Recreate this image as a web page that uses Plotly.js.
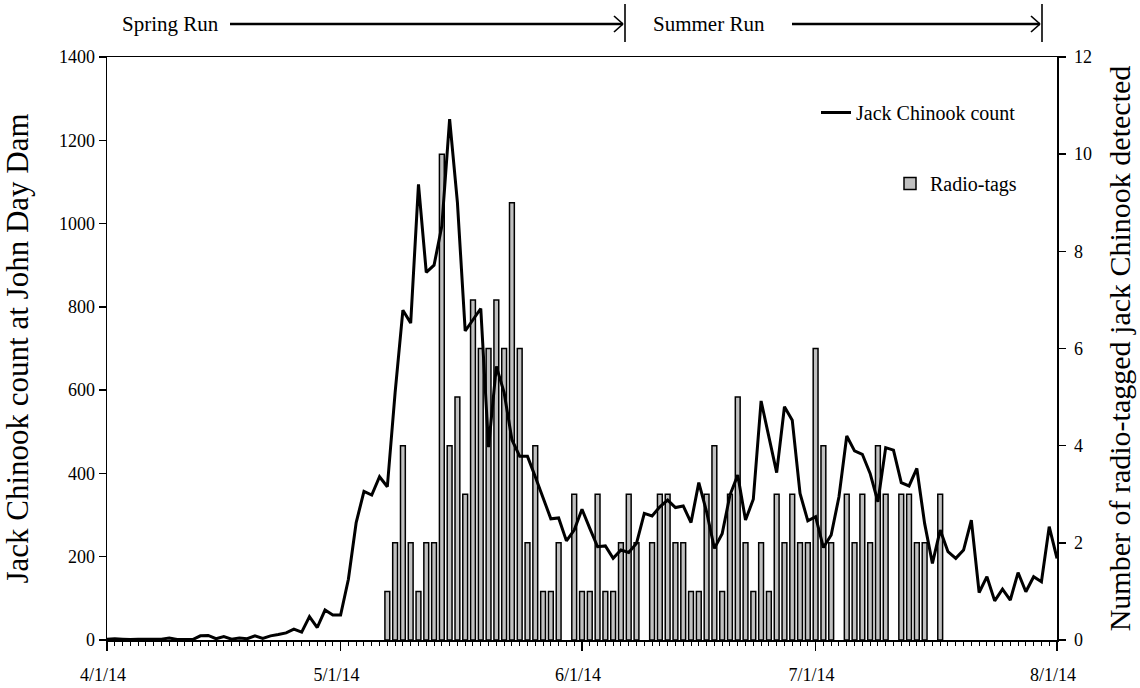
<!DOCTYPE html>
<html>
<head>
<meta charset="utf-8">
<script src="https://cdn.plot.ly/plotly-3.0.1.min.js"></script>
<style>html,body{margin:0;padding:0;background:#fff;}#chart{width:1140px;height:688px;}</style>
</head>
<body>
<div id="chart"></div>
<script>
// ---- data ----
const startDate = '2014-04-01';
// daily jack Chinook count at John Day Dam, 4/1/14 .. 8/1/14
const jackCount = [
  2,3,2,1,2,2,1,2,5,1,1,1,10,11,3,8,2,5,3,10,4,10,13,17,26,19,56,30,72,60,
  60,146,282,357,348,392,368,594,792,761,1094,883,900,994,1251,1051,742,768,796,463,657,594,481,441,441,392,341,291,293,238,
  264,314,268,224,226,196,216,210,232,304,298,320,336,318,322,282,378,308,220,255,348,396,288,338,574,488,402,560,528,352,
  286,296,222,252,344,490,454,446,400,332,462,456,378,370,412,280,184,264,212,196,216,288,114,152,94,122,96,162,116,152,140,272,196
];
const tagDates = [
  '2014-05-07','2014-05-08','2014-05-09','2014-05-10','2014-05-11','2014-05-12','2014-05-13','2014-05-14',
  '2014-05-15','2014-05-16','2014-05-17','2014-05-18','2014-05-19','2014-05-20','2014-05-21','2014-05-22',
  '2014-05-23','2014-05-24','2014-05-25','2014-05-26','2014-05-27','2014-05-28','2014-05-29','2014-05-31',
  '2014-06-01','2014-06-02','2014-06-03','2014-06-04','2014-06-05','2014-06-06','2014-06-07','2014-06-08',
  '2014-06-10','2014-06-11','2014-06-12','2014-06-13','2014-06-14','2014-06-15','2014-06-16','2014-06-17',
  '2014-06-18','2014-06-19','2014-06-20','2014-06-21','2014-06-22','2014-06-23','2014-06-24','2014-06-25',
  '2014-06-26','2014-06-27','2014-06-28','2014-06-29','2014-06-30','2014-07-01','2014-07-02','2014-07-03',
  '2014-07-05','2014-07-06','2014-07-07','2014-07-08','2014-07-09','2014-07-10',
  '2014-07-12','2014-07-13','2014-07-14','2014-07-15','2014-07-17'
];
const tagCounts = [
  1,2,4,2,1,2,2,10,
  4,5,3,7,6,6,7,6,
  9,6,2,4,1,1,2,3,
  1,1,3,1,1,2,3,2,
  2,3,3,2,2,1,1,3,
  4,1,3,5,2,1,2,1,
  3,2,3,2,2,6,4,2,
  3,2,3,2,4,3,
  3,3,2,2,3
];
const monthTicks = ['2014-04-01','2014-05-01','2014-06-01','2014-07-01','2014-08-01'];
const monthLabels = ['4/1/14','5/1/14','6/1/14','7/1/14','8/1/14'];
const runNames = ['Spring Run','Summer Run'];

// ---- build ----
const DAY = 86400000;
const t0 = Date.parse(startDate + 'T00:00:00Z');
const lineDates = jackCount.map((_, i) => new Date(t0 + i * DAY).toISOString().slice(0, 10));

const FONT = 'Liberation Serif, Times New Roman, serif';

const bars = {
  type: 'bar', name: 'Radio-tags', x: tagDates, y: tagCounts,
  xaxis: 'x', yaxis: 'y', width: 0.62 * DAY,
  marker: {color: '#c0c0c0', line: {color: '#000', width: 1.5}},
  legend: 'legend2', hoverinfo: 'x+y'
};
const line = {
  type: 'scatter', mode: 'lines', name: 'Jack Chinook count', x: lineDates, y: jackCount,
  xaxis: 'x', yaxis: 'y2', line: {color: '#000', width: 3}, legend: 'legend'
};

// pixel helpers for decorations (plot area 107..1057 x 57..640)
const px = v => (v - 107) / 950;
const py = v => (640 - v) / 583;

const shapes = [];
function arrow(x1, x2, y, bar) {
  shapes.push({type: 'line', xref: 'paper', yref: 'paper', x0: px(x1), x1: px(x2), y0: py(y), y1: py(y), line: {color: '#000', width: 2.4}});
  shapes.push({type: 'line', xref: 'paper', yref: 'paper', x0: px(x2 - 9), x1: px(x2), y0: py(y - 8), y1: py(y), line: {color: '#000', width: 1.6}});
  shapes.push({type: 'line', xref: 'paper', yref: 'paper', x0: px(x2 - 9), x1: px(x2), y0: py(y + 8), y1: py(y), line: {color: '#000', width: 1.6}});
  shapes.push({type: 'line', xref: 'paper', yref: 'paper', x0: px(bar), x1: px(bar), y0: py(4), y1: py(42), line: {color: '#000', width: 1.6}});
}
arrow(230, 623, 24, 625);
arrow(792, 1040, 24, 1042);

const annotations = [
  {xref: 'paper', yref: 'paper', x: px(170), y: py(24), text: runNames[0], showarrow: false, xanchor: 'center', yanchor: 'middle', font: {family: FONT, size: 21, color: '#000'}},
  {xref: 'paper', yref: 'paper', x: px(709), y: py(24), text: runNames[1], showarrow: false, xanchor: 'center', yanchor: 'middle', font: {family: FONT, size: 21, color: '#000'}}
];

const layout = {
  width: 1140, height: 688,
  margin: {l: 107, r: 83, t: 57, b: 48, pad: 0},
  paper_bgcolor: '#fff', plot_bgcolor: '#fff',
  font: {family: FONT, size: 18, color: '#000'},
  bargap: 0,
  xaxis: {
    type: 'date', range: ['2014-04-01', '2014-08-01'],
    tickmode: 'array', tickvals: monthTicks, ticktext: monthLabels,
    ticks: 'outside', ticklen: 9, tickwidth: 1.5, tickcolor: '#000',
    ticklabelstandoff: 9, ticklabelshift: -4,
    minor: {tickmode: 'linear', tick0: startDate, dtick: DAY, ticks: 'outside', ticklen: 4, tickwidth: 1, tickcolor: '#000', showgrid: false},
    showline: true, linecolor: '#000', linewidth: 1.5, mirror: true,
    showgrid: false, zeroline: false, fixedrange: true,
    tickfont: {family: FONT, size: 18, color: '#000'}
  },
  yaxis: {
    side: 'right', range: [0, 12], dtick: 2, tick0: 0,
    ticks: 'outside', ticklen: 7, tickwidth: 1.5, tickcolor: '#000',
    ticklabelstandoff: 5,
    showline: true, linecolor: '#000', linewidth: 1.5,
    showgrid: false, zeroline: false,
    tickfont: {family: FONT, size: 18, color: '#000'},
    title: {text: 'Number of radio-tagged jack Chinook detected', font: {family: FONT, size: 30, color: '#000'}, standoff: 18}
  },
  yaxis2: {
    overlaying: 'y', side: 'left', range: [0, 1400], dtick: 200, tick0: 0,
    ticks: 'outside', ticklen: 7, tickwidth: 1.5, tickcolor: '#000',
    showline: true, linecolor: '#000', linewidth: 1.5,
    showgrid: false, zeroline: false,
    tickfont: {family: FONT, size: 18, color: '#000'},
    title: {text: 'Jack Chinook count at John Day Dam', font: {family: FONT, size: 31, color: '#000'}, standoff: 22}
  },
  legend: {x: px(816), y: py(93), xanchor: 'left', yanchor: 'top', bgcolor: 'rgba(0,0,0,0)', font: {family: FONT, size: 20, color: '#000'}},
  legend2: {x: px(890), y: py(164), xanchor: 'left', yanchor: 'top', bgcolor: 'rgba(0,0,0,0)', font: {family: FONT, size: 20, color: '#000'}},
  showlegend: true,
  shapes: shapes,
  annotations: annotations
};

Plotly.newPlot('chart', [bars, line], layout, {displayModeBar: false, staticPlot: true});
</script>
</body>
</html>
